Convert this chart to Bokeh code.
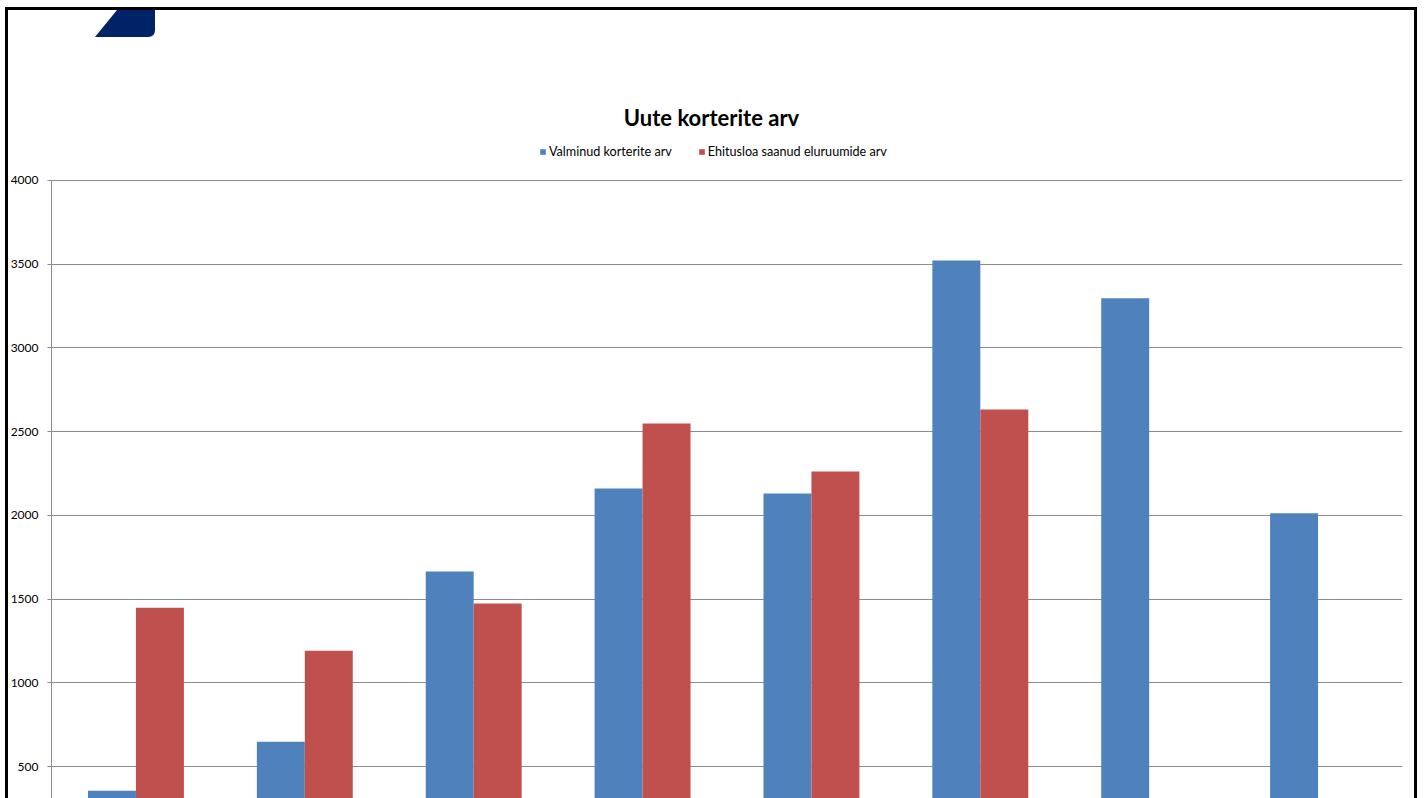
from bokeh.plotting import figure
from bokeh.models import (FactorRange, Range1d, Legend, LegendItem, Label,
                          FixedTicker, ColumnDataSource)
from bokeh.transform import dodge
from bokeh.embed import file_html
from bokeh.resources import INLINE

# ---- data ----
categories = ["2004", "2005", "2006", "2007", "2008", "2009", "2010", "2011"]
valminud = [355, 648, 1665, 2160, 2130, 3522, 3296, 2013]
ehitusluba = [1448, 1192, 1474, 2549, 2262, 2632, None, None]
y_ticks = [500, 1000, 1500, 2000, 2500, 3000, 3500, 4000]
y_max = 4000
title_text = "Uute korterite arv"
series_names = ["Valminud korterite arv", "Ehitusloa saanud eluruumide arv"]

BLUE = "#4F81BD"
RED = "#C0504D"
GRID = "#8C8C8C"
FONT = "Lato"

src_b = ColumnDataSource(dict(cat=categories, val=valminud))
red_cats = [c for c, v in zip(categories, ehitusluba) if v is not None]
red_vals = [v for v in ehitusluba if v is not None]
src_r = ColumnDataSource(dict(cat=red_cats, val=red_vals))

# plot area runs to the top of the page; 4000 sits 180 px below the top
p = figure(x_range=FactorRange(*categories, range_padding=0),
           y_range=Range1d(309, 5075),
           width=1424, height=798,
           output_backend="svg", toolbar_location=None,
           x_axis_location=None,
           min_border_left=51, min_border_right=22,
           min_border_top=0, min_border_bottom=0)

p.outline_line_color = None
p.background_fill_alpha = 0
p.border_fill_alpha = 0

rb = p.vbar(x=dodge("cat", -0.142, range=p.x_range), top="val", bottom=0,
            width=0.284, source=src_b, fill_color=BLUE, line_color=None)
rr = p.vbar(x=dodge("cat", 0.142, range=p.x_range), top="val", bottom=0,
            width=0.284, source=src_r, fill_color=RED, line_color=None)

ax = p.yaxis[0]
ax.ticker = FixedTicker(ticks=y_ticks)
ax.bounds = (0, y_max)
ax.axis_line_color = GRID
ax.major_tick_line_color = GRID
ax.major_tick_in = 0
ax.major_tick_out = 4
ax.minor_tick_line_color = None
ax.major_label_standoff = 9
ax.major_label_text_font = FONT
ax.major_label_text_font_size = "12px"
ax.major_label_text_color = "black"

p.xgrid.grid_line_color = None
p.ygrid.grid_line_color = GRID
p.ygrid.grid_line_width = 1
p.ygrid.ticker = ax.ticker

# title
p.add_layout(Label(x=711, y=117, x_units="canvas", y_units="canvas",
                   text=title_text, text_align="center", text_baseline="middle",
                   text_font=FONT, text_font_size="22px", text_font_style="bold",
                   text_color="black"))

# legend (location = bottom-left of the legend box, measured from the plot area's bottom-left)
legend = Legend(items=[LegendItem(label=series_names[0], renderers=[rb]),
                       LegendItem(label=series_names[1], renderers=[rr])],
                orientation="horizontal", location=(488, 639),
                glyph_width=7, glyph_height=7, label_height=12,
                label_standoff=3, spacing=26, padding=0, margin=0,
                border_line_color=None, background_fill_alpha=0,
                label_text_font=FONT, label_text_font_size="12.6px",
                label_text_color="black")
p.add_layout(legend)

# page frame and logo (page decoration, drawn behind the transparent canvas)
logo_svg = ("data:image/svg+xml;utf8,<svg xmlns='http://www.w3.org/2000/svg' "
            "width='200' height='60'><path d='M117 10 H155 V30 Q155 37 148 37 H95 Z' "
            "fill='%23002266'/></svg>")
p.styles = {
    "background-color": "white",
    "background-image": f'url("{logo_svg}")',
    "background-repeat": "no-repeat",
    "background-position": "0 0",
    "box-shadow": ("inset 0 7px 0 0 white, inset 5px 0 0 0 white, "
                   "inset -7px 0 0 0 white, inset 0 10px 0 0 black, "
                   "inset 8px 0 0 0 black, inset -10px 0 0 0 black"),
}

open("out.html", "w").write(file_html(p, INLINE))
